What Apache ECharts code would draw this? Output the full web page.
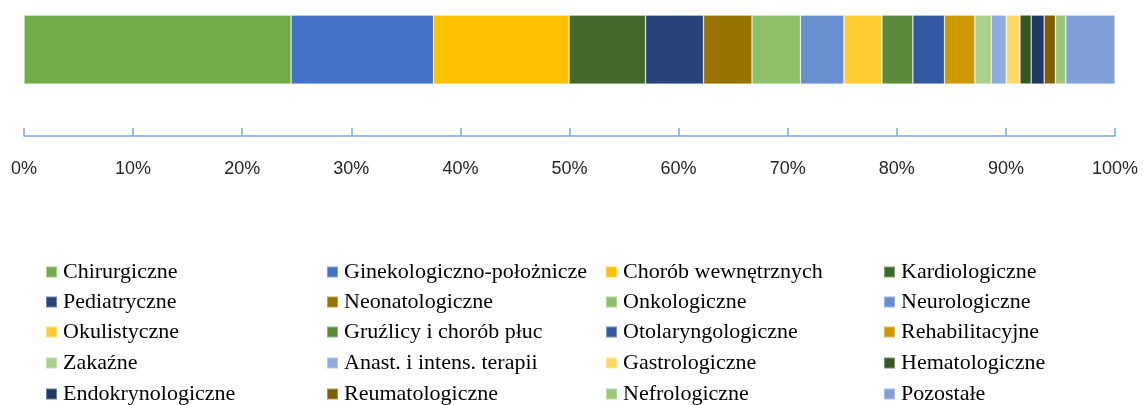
<!DOCTYPE html>
<html>
<head>
<meta charset="utf-8">
<title>Oddziały</title>
<style>
  html, body { margin: 0; padding: 0; background: #fff; }
  #chart { width: 1144px; height: 405px; }
</style>
</head>
<body>
<div id="chart"></div>
<script src="https://cdn.jsdelivr.net/npm/echarts@6/dist/echarts.min.js"></script>
<script>
// nazwy oddziałów (kolejność jak w legendzie)
var wards = ['Chirurgiczne', 'Ginekologiczno-położnicze', 'Chorób wewnętrznych', 'Kardiologiczne',
  'Pediatryczne', 'Neonatologiczne', 'Onkologiczne', 'Neurologiczne',
  'Okulistyczne', 'Gruźlicy i chorób płuc', 'Otolaryngologiczne', 'Rehabilitacyjne',
  'Zakaźne', 'Anast. i intens. terapii', 'Gastrologiczne', 'Hematologiczne',
  'Endokrynologiczne', 'Reumatologiczne', 'Nefrologiczne', 'Pozostałe'];
// udział w %
var shares = [24.48, 13.06, 12.42, 7.01, 5.32, 4.44, 4.44, 3.99, 3.48, 2.83,
  2.90, 2.79, 1.50, 1.37, 1.26, 1.03, 1.19, 1.03, 0.95, 4.51];
var ticks = [0, 10, 20, 30, 40, 50, 60, 70, 80, 90, 100];

var palette = ['#70AD47', '#4472C4', '#FFC000', '#43682B', '#264478', '#997300',
  '#8FC16B', '#698ED0', '#FFCD33', '#5B8A3B', '#335AA1', '#CC9A00',
  '#A9D08E', '#8FAADC', '#FFD966', '#375623', '#203864', '#7F6000',
  '#9BC77A', '#7F9FD6'];

var myChart = echarts.init(document.getElementById('chart'));

var series = wards.map(function (name, i) {
  return {
    name: name,
    type: 'bar',
    stack: 'all',
    barWidth: '100%',
    data: [shares[i]],
    itemStyle: { borderColor: 'rgba(255,255,255,0.35)', borderWidth: 0.75 },
    emphasis: { disabled: true }
  };
});

// legenda: 4 kolumny x 5 wierszy, jeden wpis na legendę
var colLeft = [45, 326, 605, 883];
var rowTop = [261, 291, 321, 352, 383];
var legends = wards.map(function (name, i) {
  return {
    orient: 'horizontal',
    left: colLeft[i % 4],
    top: rowTop[Math.floor(i / 4)],
    padding: 0,
    itemWidth: 11,
    itemHeight: 11,
    icon: 'rect',
    selectedMode: false,
    data: [name],
    textStyle: {
      fontFamily: 'Liberation Serif',
      fontSize: 22,
      lineHeight: 20,
      color: '#000',
      padding: [0, 0, 0, 1]
    }
  };
});

var option = {
  animation: false,
  color: palette,
  grid: { left: 24, right: 29, top: 15, height: 69 },
  xAxis: {
    type: 'value',
    min: ticks[0],
    max: ticks[ticks.length - 1],
    interval: 10,
    offset: 52,
    axisLine: { show: true, lineStyle: { color: '#7EA6DA', width: 1.5 } },
    axisTick: { show: true, inside: true, length: 8, lineStyle: { color: '#7EA6DA', width: 1.5 } },
    splitLine: { show: false },
    axisLabel: {
      margin: 24,
      fontFamily: 'Liberation Sans',
      fontSize: 18,
      color: '#262626',
      formatter: '{value}%'
    }
  },
  yAxis: {
    type: 'category',
    data: [''],
    axisLine: { show: false },
    axisTick: { show: false },
    axisLabel: { show: false }
  },
  legend: legends,
  series: series
};

myChart.setOption(option);
</script>
</body>
</html>
